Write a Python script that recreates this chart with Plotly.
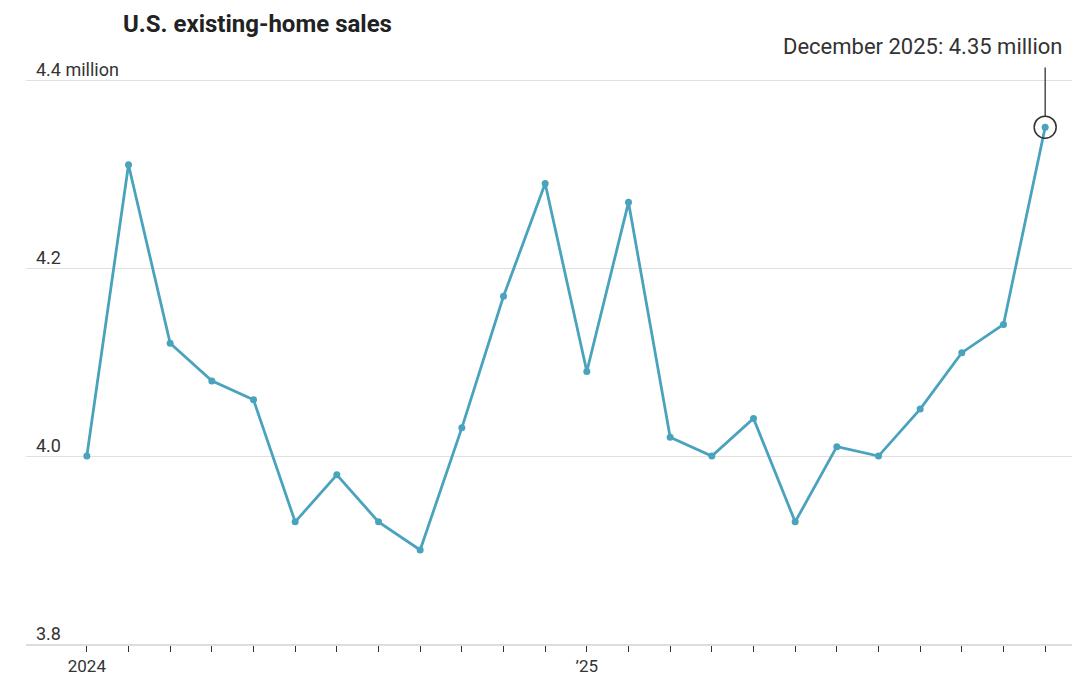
import plotly.graph_objects as go

# ##### Data #####
months = list(range(24))  # Jan 2024 .. Dec 2025
sales = [4.00, 4.31, 4.12, 4.08, 4.06, 3.93, 3.98, 3.93, 3.90, 4.03, 4.17, 4.29,
         4.09, 4.27, 4.02, 4.00, 4.04, 3.93, 4.01, 4.00, 4.05, 4.11, 4.14, 4.35]
y_ticks = [3.8, 4.0, 4.2, 4.4]
y_tick_text = ["3.8", "4.0", "4.2", "4.4 million"]
x_year_ticks = [0, 12]
x_year_text = ["2024", "’25"]

line_color = "#4aa3bd"
font = "Roboto"

fig = go.Figure()
fig.add_trace(go.Scatter(x=months, y=sales, mode="lines+markers",
                         line=dict(color=line_color, width=2.8),
                         marker=dict(size=7, color=line_color), hoverinfo="skip"))
# ring around latest value
fig.add_trace(go.Scatter(x=[months[-1]], y=[sales[-1]], mode="markers",
                         marker=dict(size=22, color="rgba(0,0,0,0)",
                                     line=dict(color="#333", width=1.5)), hoverinfo="skip"))

for v, t in zip(y_ticks, y_tick_text):
    fig.add_annotation(x=0, xref="paper", y=v, yref="y", text=t, showarrow=False,
                       xanchor="left", yanchor="bottom", xshift=8, yshift=-2,
                       font=dict(family=font, size=18, color="#333"))

fig.add_annotation(x=months[-1], y=sales[-1], ax=months[-1], ay=4.415, axref="x", ayref="y",
                   text="", showarrow=True, arrowhead=0, arrowwidth=1.3, arrowcolor="#333",
                   standoff=11)
fig.add_annotation(x=1, xref="paper", y=4.42, text="December 2025: 4.35 million", showarrow=False,
                   xanchor="right", yanchor="bottom", xshift=-16,
                   font=dict(family=font, size=22, color="#333"))

fig.add_annotation(x=0.09, xref="paper", y=1.0, yref="paper", text="<b>U.S. existing-home sales</b>",
                   showarrow=False, xanchor="left", yanchor="bottom", yshift=12,
                   font=dict(family=font, size=24, color="#222"))

fig.update_layout(
    width=1080, height=675, showlegend=False,
    margin=dict(l=18, r=7, t=44, b=30),
    plot_bgcolor="white", paper_bgcolor="white",
    font=dict(family=font, size=17, color="#333"),
    xaxis=dict(range=[-1.46, 23.86], showgrid=False, zeroline=False,
               showline=True, linecolor="#ddd", linewidth=1.5,
               ticks="outside", tickvals=months, ticklen=6, tickcolor="#333",
               ticktext=[x_year_text[0] if m == 0 else (x_year_text[1] if m == 12 else "") for m in months],
               tickfont=dict(family=font, size=17, color="#333")),
    yaxis=dict(range=[3.8, 4.43], tickvals=y_ticks, showticklabels=False,
               gridcolor="#e0e0e0", gridwidth=1, zeroline=False),
)

fig.write_html("out.html")
